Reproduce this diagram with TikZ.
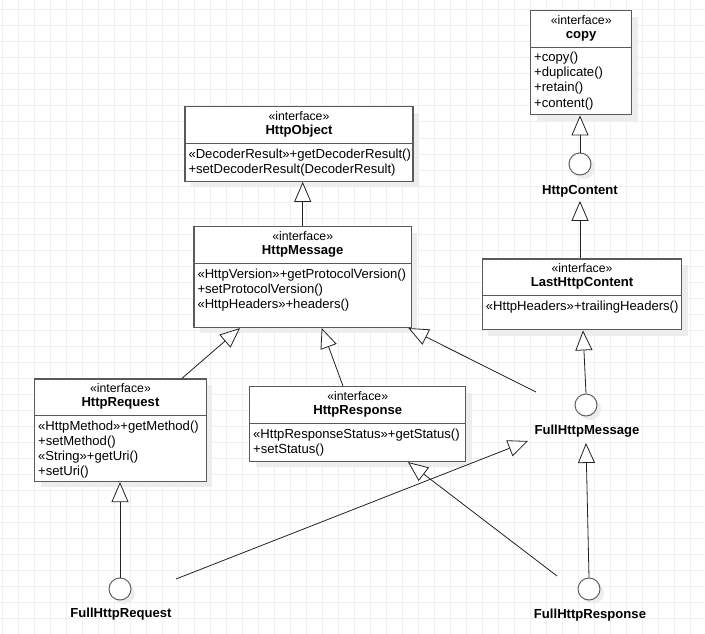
\documentclass[tikz,border=0pt]{standalone}
\usepackage{fontspec}
\setmainfont{Liberation Sans}
\usetikzlibrary{arrows.meta,shadows,calc}
\definecolor{gridc}{HTML}{EFEFEF}
\definecolor{boxc}{HTML}{5A5A5A}
\definecolor{circc}{HTML}{606060}
\definecolor{shadc}{HTML}{EDEDED}
\definecolor{linec}{HTML}{222222}

\newcommand\umlbox[7]{%
  \node[box, minimum width={#4-#2}, minimum height={#5-#3}] (#1) at (#2,#3) {};
  \draw[divline] ($(#1.north west)+(0,37.3)$) -- ($(#1.north east)+(0,37.3)$);
  \node[ster] (#1-s) at ($(#1.north)+(0,14.5)$) {«interface»};
  \node[ttl] (#1-t) at ($(#1.north)+(0,28.5)$) {#6};
  \foreach \m [count=\i, evaluate=\i as \yy using 52+15*(\i-1)] in {#7}
    \node[meth] (#1-m\i) at ($(#1.north west)+(4,\yy)$) {\m};
}

\begin{document}
\begin{tikzpicture}[x=1pt,y=-1pt,
  box/.style={draw=boxc, line width=1.4pt, fill=white, inner sep=0pt, anchor=north west,
    drop shadow={shadow xshift=6pt, shadow yshift=-6pt, fill=shadc, opacity=1}},
  divline/.style={draw=boxc, line width=1.4pt},
  ster/.style={font=\fontsize{12.3}{15}\selectfont, anchor=base, inner sep=0pt},
  ttl/.style={font=\fontsize{13.1}{15}\selectfont\bfseries, anchor=base, inner sep=0pt},
  meth/.style={font=\fontsize{13.1}{15}\selectfont, anchor=base west, inner sep=0pt},
  circ/.style={circle, draw=circc, line width=1pt, fill=white, minimum size=22pt, inner sep=0pt,
    drop shadow={shadow xshift=4pt, shadow yshift=-4pt, fill=shadc, opacity=1}},
  lbl/.style={font=\fontsize{13.1}{15}\selectfont\bfseries, anchor=base, inner sep=0pt},
  con/.style={draw=linec, line width=0.8pt, -{Triangle[open, fill=white, length=20pt, width=17pt]}}
]
\useasboundingbox (0,0) rectangle (705,634);
\fill[white] (0,0) rectangle (705,634);
\foreach \x in {2,18,...,705} \draw[gridc, line width=1pt] (\x,0) -- (\x,634);
\foreach \y in {10,26,...,634} \draw[gridc, line width=1pt] (0,\y) -- (705,\y);

\umlbox{copy}{530}{10}{631}{114}{copy}{+copy(),+duplicate(),+retain(),+content()}
\umlbox{hobj}{184.3}{106}{412.3}{180.5}{HttpObject}{«DecoderResult»+getDecoderResult(),+setDecoderResult(DecoderResult)}
\umlbox{hmsg}{193.3}{226}{410.7}{326.7}{HttpMessage}{«HttpVersion»+getProtocolVersion(),+setProtocolVersion(),«HttpHeaders»+headers()}
\umlbox{lhc}{481.7}{258.3}{681}{329}{LastHttpContent}{«HttpHeaders»+trailingHeaders()}
\umlbox{hreq}{34}{378.3}{205.5}{480.7}{HttpRequest}{«HttpMethod»+getMethod(),+setMethod(),«String»+getUri(),+setUri()}
\umlbox{hresp}{249}{386}{465}{460.7}{HttpResponse}{«HttpResponseStatus»+getStatus(),+setStatus()}

\node[circ] (hc) at (580,164) {};
\node[lbl] (hcl) at (580,194) {HttpContent};
\node[circ] (fhm) at (586,405) {};
\node[lbl] (fhml) at (587,434) {FullHttpMessage};
\node[circ] (fhreq) at (120,589) {};
\node[lbl] (fhreql) at (121,617.5) {FullHttpRequest};
\node[circ] (fhresp) at (589,589) {};
\node[lbl] (fhrespl) at (590,618) {FullHttpResponse};

\coordinate (a7) at (536,392);
\coordinate (a9s) at (176,579);
\coordinate (a9e) at (528,441);
\coordinate (a11) at (557,576);

\draw[con] (hc.north) -- (hc.north |- copy.south);
\draw[con] (hcl.south |- lhc.north) -- ($(hcl.south)+(0,4)$);
\draw[con] (fhm.north) -- ($(fhm.north |- lhc.south)+(-3,0)$);
\draw[con] (hmsg.north) -- (hmsg.north |- hobj.south);
\draw[con] ($(hreq.north west)+(148,0)$) -- ($(hmsg.south west)+(46.7,0)$);
\draw[con] ($(hresp.north west)+(94,0)$) -- ($(hmsg.south west)+(128.4,0)$);
\draw[con] (a7) -- ($(hmsg.south east)+(-3.7,0)$);
\draw[con] (fhreq.north) -- (fhreq.north |- hreq.south);
\draw[con] (a9s) -- (a9e);
\draw[con] (fhresp.north) -- ($(fhml.south)+(-1,6)$);
\draw[con] (a11) -- ($(hresp.south west)+(159,0)$);
\end{tikzpicture}
\end{document}
